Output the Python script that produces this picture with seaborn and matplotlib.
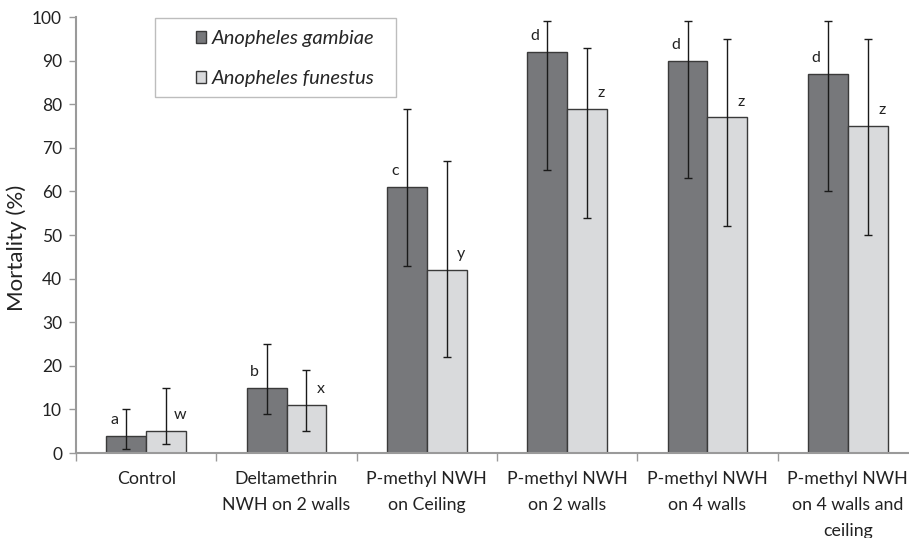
import matplotlib
matplotlib.use("Agg")
import matplotlib.pyplot as plt
import matplotlib.patches as mpatches
import seaborn as sns
import pandas as pd
import numpy as np

categories = ["Control", "Deltamethrin\nNWH on 2 walls", "P-methyl NWH\non Ceiling",
              "P-methyl NWH\non 2 walls", "P-methyl NWH\non 4 walls",
              "P-methyl NWH\non 4 walls and\nceiling"]
species = ["Anopheles gambiae", "Anopheles funestus"]
gambiae = [4, 15, 61, 92, 90, 87]
gambiae_low = [1, 9, 43, 65, 63, 60]
gambiae_high = [10, 25, 79, 99, 99, 99]
funestus = [5, 11, 42, 79, 77, 75]
funestus_low = [2, 5, 22, 54, 52, 50]
funestus_high = [15, 19, 67, 93, 95, 95]
gambiae_letters = ["a", "b", "c", "d", "d", "d"]
funestus_letters = ["w", "x", "y", "z", "z", "z"]
yticks = list(range(0, 101, 10))

sns.set_theme(style="white")
plt.rcParams['font.family'] = ['Lato', 'DejaVu Sans']

df = pd.DataFrame({
    "category": categories * 2,
    "species": [species[0]] * len(categories) + [species[1]] * len(categories),
    "value": gambiae + funestus,
})

fig = plt.figure(figsize=(9.09, 5.38), dpi=100)
ax = fig.add_axes([76 / 909, 85 / 538, (918 - 76) / 909, 436 / 538])

palette = {species[0]: "#77787b", species[1]: "#d9dadc"}
sns.barplot(data=df, x="category", y="value", hue="species", order=categories,
            hue_order=species, palette=palette, width=0.57, errorbar=None,
            edgecolor="#3a3a3a", linewidth=1.0, ax=ax, saturation=1, legend=True)

lows = [gambiae_low, funestus_low]
highs = [gambiae_high, funestus_high]
vals = [gambiae, funestus]
letters = [gambiae_letters, funestus_letters]
bar_conts = list(ax.containers)[:2]
for k, cont in enumerate(bar_conts):
    bars = list(cont)
    xs = np.array([b.get_x() + b.get_width() / 2 for b in bars])
    v = np.array(vals[k], dtype=float)
    lo = v - np.array(lows[k])
    hi = np.array(highs[k]) - v
    ax.errorbar(xs, v, yerr=[lo, hi], fmt="none", ecolor="#1a1a1a",
                elinewidth=1.0, capsize=3, capthick=1.0)
    for i, b in enumerate(bars):
        if k == 0:
            lx = b.get_x() + b.get_width() * 0.2
        else:
            lx = b.get_x() + b.get_width() * 0.85
        ax.text(lx, vals[k][i] + 2.0, letters[k][i], ha="center", va="bottom",
                fontsize=11.5, color="#222222")

ax.set_xlim(-0.5, len(categories) - 0.5)
ax.set_ylim(0, 100)
ax.set_yticks(yticks)
ax.set_yticklabels([str(t) for t in yticks], fontsize=12.5, color="#222222")
ax.set_xticks(np.arange(-0.5, len(categories), 1.0))
ax.set_xticklabels([])
ax.set_xticks(np.arange(len(categories)), minor=True)
ax.set_xticklabels(categories, minor=True, fontsize=12.8, color="#222222", linespacing=1.75)
ax.tick_params(axis="x", which="minor", length=0, pad=13)
ax.tick_params(axis="x", which="major", length=6, width=1, color="#9a9a9a", direction="out", bottom=True)
ax.tick_params(axis="y", length=5, width=1, color="#9a9a9a", direction="out", left=True, pad=5)

ax.set_xlabel("")
ax.set_ylabel("Mortality (%)", fontsize=16, color="#222222")
ax.yaxis.set_label_coords(-0.058, 0.47)
for s in ["top", "right"]:
    ax.spines[s].set_visible(False)
for s in ["left", "bottom"]:
    ax.spines[s].set_color("#9a9a9a")
    ax.spines[s].set_linewidth(1.5)

handles, labels = ax.get_legend_handles_labels()
if ax.get_legend() is not None:
    ax.get_legend().remove()

box = mpatches.Rectangle((155 / 909, 1 - 97 / 538), 241 / 909, 79 / 538,
                         transform=fig.transFigure, facecolor="white",
                         edgecolor="#bdbdbd", linewidth=1.0, zorder=4)
fig.patches.append(box)
leg = fig.legend(handles, labels, loc="upper left",
                 bbox_to_anchor=(196 / 909, 1 - 30 / 538), bbox_transform=fig.transFigure,
                 frameon=False, prop={"style": "italic", "size": 14.5},
                 handlelength=0.5, handleheight=0.5, handletextpad=0.3,
                 labelspacing=1.15, borderpad=0, borderaxespad=0)
leg.set_zorder(5)

fig.savefig("out.png", dpi=100)
